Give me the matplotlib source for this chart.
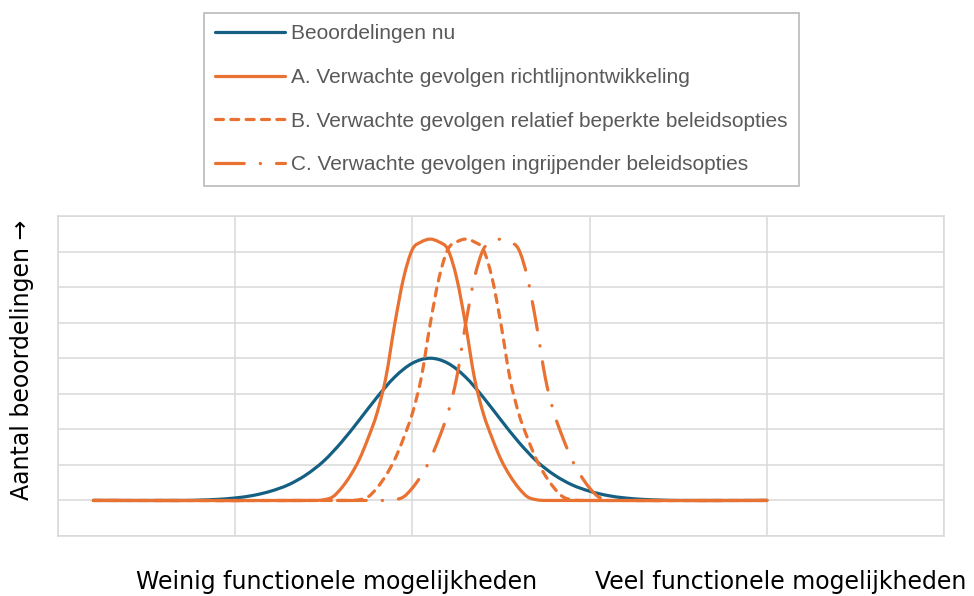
import matplotlib
matplotlib.use('agg')
import matplotlib.pyplot as plt
from matplotlib.path import Path
from matplotlib.patches import PathPatch
from matplotlib.lines import Line2D

# Beoordelingen nu (blauw) en verwachte gevolgen A/B/C (oranje)
x_nu = [0.2, 0.7, 0.8, 0.9, 1.0, 1.1, 1.2, 1.3, 1.4, 1.5, 1.6, 1.7, 1.8, 1.9, 2.0,
        2.1, 2.2, 2.3, 2.4, 2.5, 2.6, 2.7, 2.8, 2.9, 3.0, 3.1, 3.2, 3.3, 3.4, 3.5, 4.0]
y_nu = [1.0, 1.0, 1.01, 1.03, 1.07, 1.14, 1.26, 1.44, 1.72, 2.11, 2.64, 3.26, 3.9, 4.47, 4.86,
        5.0, 4.86, 4.47, 3.9, 3.26, 2.64, 2.11, 1.72, 1.44, 1.26, 1.14, 1.07, 1.03, 1.01, 1.0, 1.0]

x_a = [0.2, 1.45, 1.5, 1.55, 1.6, 1.65, 1.7, 1.75, 1.8, 1.85, 1.9, 1.95, 2.0, 2.05, 2.1,
       2.15, 2.2, 2.25, 2.3, 2.35, 2.4, 2.45, 2.5, 2.55, 2.6, 2.65, 2.7, 2.75, 4.0]
y_a = [1.0, 1.0, 1.02, 1.1, 1.35, 1.7, 2.15, 2.75, 3.45, 4.45, 5.95, 7.25, 8.06, 8.27, 8.35,
       8.27, 8.06, 7.25, 5.95, 4.45, 3.45, 2.75, 2.15, 1.7, 1.35, 1.1, 1.02, 1.0, 1.0]

x_b = [0.2, 1.65, 1.7, 1.75, 1.8, 1.85, 1.9, 1.95, 2.0, 2.05, 2.1, 2.15, 2.2, 2.25, 2.3,
       2.35, 2.4, 2.45, 2.5, 2.55, 2.6, 2.65, 2.7, 2.75, 2.8, 2.85, 2.9, 2.95, 4.0]
y_b = [1.0, 1.0, 1.02, 1.1, 1.35, 1.7, 2.15, 2.75, 3.45, 4.45, 5.95, 7.25, 8.06, 8.27, 8.35,
       8.27, 8.06, 7.25, 5.95, 4.45, 3.45, 2.75, 2.15, 1.7, 1.35, 1.1, 1.02, 1.0, 1.0]

x_c = [0.2, 1.85, 1.9, 1.95, 2.0, 2.05, 2.1, 2.15, 2.2, 2.25, 2.3, 2.35, 2.4, 2.45, 2.5,
       2.55, 2.6, 2.65, 2.7, 2.75, 2.8, 2.85, 2.9, 2.95, 3.0, 3.05, 3.1, 3.15, 4.0]
y_c = [1.0, 1.0, 1.02, 1.1, 1.35, 1.7, 2.15, 2.75, 3.45, 4.45, 5.95, 7.25, 8.06, 8.27, 8.35,
       8.27, 8.06, 7.25, 5.95, 4.45, 3.45, 2.75, 2.15, 1.7, 1.35, 1.1, 1.02, 1.0, 1.0]

labels = ['Beoordelingen nu',
          'A. Verwachte gevolgen richtlijnontwikkeling',
          'B. Verwachte gevolgen relatief beperkte beleidsopties',
          'C. Verwachte gevolgen ingrijpender beleidsopties']

blauw = '#156082'
oranje = '#E97132'
grid_kleur = '#D9D9D9'
lw = 2.3
stijlen = [(blauw, '-'), (oranje, '-'), (oranje, (0, (2.5, 2.3))), (oranje, (0, (9, 5, 0.1, 5)))]


def gladde_lijn(xs, ys):
    # vloeiende lijn door de punten (cubic Hermite als Bezier-segmenten, zoals Excel)
    n = len(xs)
    m = []
    for i in range(n):
        i0 = max(i - 1, 0)
        i1 = min(i + 1, n - 1)
        m.append((ys[i1] - ys[i0]) / (xs[i1] - xs[i0]))
    verts = [(xs[0], ys[0])]
    codes = [Path.MOVETO]
    for i in range(n - 1):
        h = xs[i + 1] - xs[i]
        verts += [(xs[i] + h / 3, ys[i] + m[i] * h / 3),
                  (xs[i + 1] - h / 3, ys[i + 1] - m[i + 1] * h / 3),
                  (xs[i + 1], ys[i + 1])]
        codes += [Path.CURVE4] * 3
    return Path(verts, codes)


fig = plt.figure(figsize=(9.74, 5.96), dpi=100)
ax = fig.add_axes([58 / 974, 1 - 536 / 596, 886 / 974, 320 / 596])

reeksen = [(x_nu, y_nu), (x_a, y_a), (x_b, y_b), (x_c, y_c)]
handles = []
for (xs, ys), (kleur, ls), lab in zip(reeksen, stijlen, labels):
    patch = PathPatch(gladde_lijn(xs, ys), fill=False, edgecolor=kleur, lw=lw,
                      linestyle=ls, capstyle='round', joinstyle='round', zorder=3)
    ax.add_patch(patch)
    handles.append(Line2D([], [], color=kleur, lw=lw, linestyle=ls,
                          dash_capstyle='round', solid_capstyle='round', label=lab))

ax.set_xlim(0, 5)
ax.set_ylim(0, 9)
ax.set_xticks(range(0, 6))
ax.set_yticks(range(0, 10))
ax.set_xticklabels([])
ax.set_yticklabels([])
ax.tick_params(length=0)
ax.grid(True, color=grid_kleur, lw=1.1)
ax.set_axisbelow(True)
for s in ax.spines.values():
    s.set_color(grid_kleur)
    s.set_linewidth(1.1)

leg = fig.legend(handles=handles, loc='upper center',
                 bbox_to_anchor=(501.5 / 974, 1 - 13 / 596),
                 frameon=True, fancybox=False, ncol=1, borderaxespad=0,
                 prop={'family': 'Liberation Sans', 'size': 15},
                 handlelength=3.37, handletextpad=0.3, labelspacing=1.18,
                 borderpad=0.55, labelcolor='#595959')
leg.get_frame().set_edgecolor('#B0B0B0')
leg.get_frame().set_linewidth(1.3)

fig.text(22 / 974, 1 - 360 / 596, 'Aantal beoordelingen \u2192', rotation=90,
         ha='center', va='center', fontsize=17, family='DejaVu Sans')
fig.text(337 / 974, 6.5 / 596, 'Weinig functionele mogelijkheden',
         ha='center', va='baseline', fontsize=17, family='DejaVu Sans')
fig.text(781 / 974, 6.5 / 596, 'Veel functionele mogelijkheden',
         ha='center', va='baseline', fontsize=17, family='DejaVu Sans')

fig.savefig('out.png', dpi=100)
plt.close(fig)
